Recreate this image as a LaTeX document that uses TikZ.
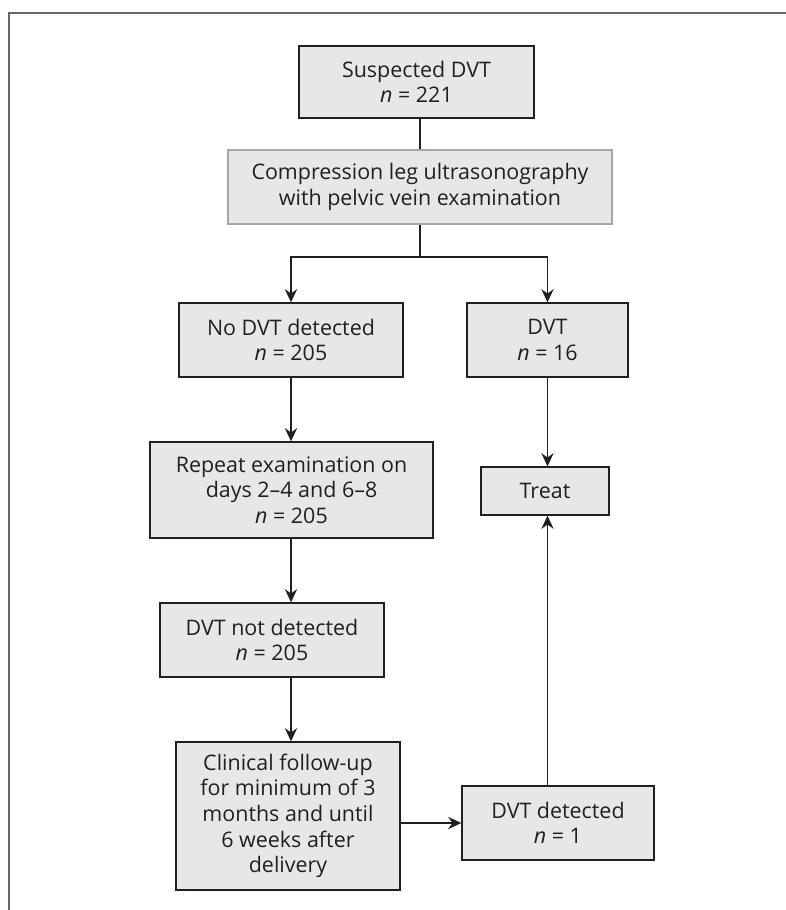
\documentclass[tikz,border=0pt]{standalone}
\usepackage{fontspec}
\setmainfont{Open Sans}
\usetikzlibrary{arrows.meta}
\definecolor{boxgray}{HTML}{E6E7E8}
\definecolor{ink}{HTML}{231F20}
\begin{document}
\begin{tikzpicture}[
	box/.style={draw=ink,line width=0.8pt,fill=boxgray,align=center,inner sep=2pt,text=ink,
		font=\fontsize{12.2}{14.6}\selectfont},
	arr/.style={-{Stealth[length=7.5pt,width=7pt,inset=2.5pt]},draw=ink,line width=0.7pt},
	link/.style={draw=ink,line width=0.7pt}]
	\useasboundingbox (0,0) rectangle (15.72,-18.2);
	\draw[gray!80!black,line width=0.9pt] (0.18,-18.2)--(0.18,-0.26)--(15.72,-0.26);
	\node[box,minimum width=4.70cm,minimum height=1.44cm] (susp) at (8.33,-1.64) {Suspected DVT\\\textit{n} = 221};
	\node[box,draw=gray!70,line width=1.1pt,minimum width=7.68cm,minimum height=1.48cm] (comp) at (8.40,-3.74) {Compression leg ultrasonography\\with pelvic vein examination};
	\node[box,minimum width=4.48cm,minimum height=1.48cm] (nodvt) at (5.82,-6.80) {No DVT detected\\\textit{n} = 205};
	\node[box,minimum width=3.22cm,minimum height=1.48cm] (dvt) at (10.95,-6.80) {DVT\\\textit{n} = 16};
	\node[box,minimum width=5.66cm,minimum height=1.92cm] (repeat) at (5.83,-9.80) {Repeat examination on\\days 2–4 and 6–8\\\textit{n} = 205};
	\node[box,minimum width=2.56cm,minimum height=0.96cm] (treat) at (10.90,-9.82) {Treat};
	\node[box,minimum width=4.48cm,minimum height=1.48cm] (notdet) at (5.44,-12.80) {DVT not detected\\\textit{n} = 205};
	\node[box,minimum width=4.48cm,minimum height=2.96cm] (clin) at (5.76,-16.32) {Clinical follow-up\\for minimum of 3\\months and until\\6 weeks after\\delivery};
	\node[box,minimum width=3.84cm,minimum height=1.48cm] (det) at (11.16,-16.46) {DVT detected\\\textit{n} = 1};
	\draw[link] (comp.north |- susp.south)--(comp.north);
	\draw[arr] (comp.south)--++(0,-0.64)-|(nodvt.north);
	\draw[arr] (comp.south)--++(0,-0.64)-|(dvt.north);
	\draw[arr] (nodvt.south)--(nodvt.south |- repeat.north);
	\draw[arr] (nodvt.south |- repeat.south)--(nodvt.south |- notdet.north);
	\draw[arr] (nodvt.south |- notdet.south)--(nodvt.south |- clin.north);
	\draw[arr] (dvt.south)--(dvt.south |- treat.north);
	\draw[arr] (dvt.south |- det.north)--(dvt.south |- treat.south);
	\draw[arr] (clin.east |- det.west)--(det.west);
\end{tikzpicture}
\end{document}
